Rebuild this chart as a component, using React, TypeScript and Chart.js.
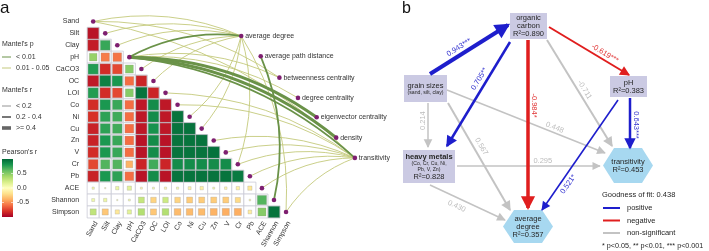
import React, { useEffect, useRef } from 'react';
import { Chart, registerables } from 'chart.js';

Chart.register(...registerables);

const FONT = '"Liberation Sans", Arial, Helvetica, sans-serif';

// ---------------- Panel a data ----------------
const envVars = ['Sand', 'Silt', 'Clay', 'pH', 'CaCO3', 'OC', 'LOI', 'Co', 'Ni', 'Cu', 'Zn', 'V', 'Cr', 'Pb', 'ACE', 'Shannon', 'Simpson'];

// Pearson's r, lower triangle (row vs. earlier columns)
const rSilt = [-0.92];
const rClay = [-0.88, 0.72];
const rPH = [0.45, -0.55, -0.58];
const rCaCO3 = [0.78, -0.82, -0.72, 0.5];
const rOC = [-0.9, 0.9, 0.8, -0.6, -0.85];
const rLOI = [0.78, -0.82, -0.72, 0.5, 0.95, -0.85];
const rCo = [-0.82, 0.8, 0.72, -0.6, -0.9, 0.85, -0.9];
const rNi = [-0.8, 0.75, 0.7, -0.6, -0.9, 0.85, -0.9, 0.95];
const rCu = [-0.86, 0.75, 0.7, -0.6, -0.9, 0.82, -0.9, 0.95, 0.95];
const rZn = [-0.86, 0.8, 0.72, -0.6, -0.92, 0.85, -0.92, 0.95, 0.95, 0.95];
const rV = [-0.82, 0.8, 0.72, -0.6, -0.92, 0.85, -0.92, 0.95, 0.95, 0.95, 0.96];
const rCr = [-0.72, 0.65, 0.65, -0.38, -0.85, 0.7, -0.85, 0.85, 0.85, 0.85, 0.85, 0.85];
const rPb = [-0.86, 0.8, 0.75, -0.6, -0.92, 0.85, -0.92, 0.95, 0.95, 0.95, 0.95, 0.95, 0.92];
const rACE = [0.05, 0.02, 0.1, 0.15, -0.04, 0.04, -0.05, 0.05, -0.08, -0.1, 0.04, -0.06, -0.1, -0.15];
const rShannon = [0.08, 0.1, 0.02, 0.04, 0.28, -0.25, 0.25, -0.25, -0.28, -0.28, -0.28, -0.28, -0.22, -0.03, 0.65];
const rSimpson = [0.3, -0.3, -0.15, 0.15, 0.35, -0.3, 0.35, -0.35, -0.35, -0.35, -0.38, -0.4, -0.4, -0.12, 0.5, 0.95];

const metrics = ['average degree', 'average path distance', 'betweenness centrality', 'degree centrality', 'eigenvector centrality', 'density', 'transitivity'];
const metricX = [12.28, 13.9, 15.45, 16.99, 18.54, 20.16, 21.71];
const metricY = [1.22, 2.93, 4.72, 6.42, 8.05, 9.76, 11.46];

// Mantel links: env variable index -> metric index
const linkFrom = [0, 0, 0, 1, 2, 3, 3, 4, 5, 6, 7, 8, 9, 10, 11, 12, 12, 13, 14, 16, 16, 3, 15, 3, 3, 3];
const linkTo = [0, 2, 6, 0, 0, 2, 3, 0, 0, 6, 6, 0, 0, 6, 6, 0, 6, 6, 6, 0, 6, 0, 1, 6, 4, 5];
const linkP = [0.03, 0.04, 0.03, 0.04, 0.03, 0.02, 0.04, 0.03, 0.04, 0.03, 0.04, 0.03, 0.04, 0.03, 0.03, 0.04, 0.03, 0.03, 0.02, 0.03, 0.02, 0.004, 0.006, 0.002, 0.001, 0.001];
const linkR = [0.12, 0.1, 0.14, 0.12, 0.11, 0.13, 0.1, 0.12, 0.11, 0.13, 0.12, 0.1, 0.11, 0.13, 0.12, 0.1, 0.12, 0.11, 0.13, 0.12, 0.14, 0.28, 0.3, 0.33, 0.42, 0.45];

const pearsonTicks = [0.5, 0.0, -0.5];

// ---------------- Panel b data ----------------
const nodeNames = ['grain sizes', 'organic carbon', 'pH', 'heavy metals', 'transitivity', 'average degree'];
const nodeX = [2.55, 12.85, 22.85, 2.9, 22.8, 12.8];
const nodeY = [8.85, 2.6, 8.65, 16.65, 16.55, 22.65];
const nodeR2 = ['', '0.890', '0.383', '0.828', '0.453', '0.357'];

const edgeX1 = [3.0, 11.0, 12.8, 14.9, 14.7, 2.8, 4.8, 4.7, 5.7, 3.0, 23.0, 21.8];
const edgeY1 = [7.4, 4.2, 4.0, 2.7, 4.0, 10.3, 10.3, 9.0, 16.6, 18.5, 9.8, 10.0];
const edgeX2 = [10.8, 4.7, 12.8, 22.9, 21.2, 2.8, 11.0, 20.5, 20.0, 10.5, 23.0, 14.2];
const edgeY2 = [2.5, 14.6, 20.8, 7.5, 14.6, 14.7, 21.0, 15.3, 16.6, 22.0, 14.8, 21.0];
const edgeCoef = ['0.943***', '0.705**', '-0.984*', '-0.619***', '-0.711', '0.214', '0.567', '0.448', '0.295', '0.430', '0.643***', '0.521*'];
const edgeKind = ['pos', 'pos', 'neg', 'neg', 'ns', 'ns', 'ns', 'ns', 'ns', 'ns', 'pos', 'pos'];
const goodnessOfFit = '0.438';

// ---------------- styles ----------------
const RDYLGN = ['#a50026', '#d73027', '#f46d43', '#fdae61', '#fee08b', '#ffffbf', '#d9ef8b', '#a6d96a', '#66bd63', '#1a9850', '#006837'];
const P_STRONG = '#6a9248';
const P_WEAK = '#c4c97c';
const PURPLE = '#7e1f70';
const KIND_COLOR: Record<string, string> = { pos: '#1e1ecc', neg: '#e01e1e', ns: '#c3c3c3' };
const KIND_LABEL: Record<string, string> = { pos: '#3434d0', neg: '#e03232', ns: '#bcbcbc' };
const edgeWidth = [4, 2.5, 3.5, 2, 2, 1.5, 2, 1.5, 1.3, 1.5, 2.5, 1.6];
const edgeLabelT = [0.42, 0.39, 0.39, 0.66, 0.5, 0.4, 0.44, 0.67, 0.6, 0.4, 0.54, 0.73];
const edgeLabelOff = [7, 7, 6, 6, 6, 5, 7, 5, 5, -8, 6, -7];
const edgeLabelFlip = [false, false, false, false, false, true, false, false, false, false, false, false];
const nodeShape = ['box', 'box', 'box', 'box', 'hex', 'hex'];
const nodeW = [43, 37, 37, 52, 50, 50];
const nodeH = [27, 26, 21, 33, 35, 33];

// x/y layout ranges for panel a (cell units)
const AX_MIN = -91 / 12.3;
const AX_MAX = AX_MIN + 400 / 12.3;
const AY_MIN = -18 / 12.3;
const AY_MAX = AY_MIN + 251 / 12.3;

function hexToRgb(h: string) {
  const n = parseInt(h.slice(1), 16);
  return [(n >> 16) & 255, (n >> 8) & 255, n & 255];
}
function corrColor(r: number) {
  const t = ((Math.max(-1, Math.min(1, r)) + 1) / 2) * 10;
  const i = Math.min(9, Math.floor(t));
  const f = t - i;
  const a = hexToRgb(RDYLGN[i]);
  const b = hexToRgb(RDYLGN[i + 1]);
  const c = a.map((v, k) => Math.round(v + (b[k] - v) * f));
  return `rgb(${c[0]},${c[1]},${c[2]})`;
}

const corrRows = [[], rSilt, rClay, rPH, rCaCO3, rOC, rLOI, rCo, rNi, rCu, rZn, rV, rCr, rPb, rACE, rShannon, rSimpson];

function cellUnit(chart: any) {
  const x = chart.scales.x;
  return Math.abs(x.getPixelForValue(1) - x.getPixelForValue(0));
}

const mantelLinks = {
  id: 'mantelLinks',
  beforeDatasetsDraw(chart: any) {
    const { ctx, scales } = chart;
    const x = scales.x, y = scales.y;
    ctx.save();
    ctx.lineCap = 'round';
    linkFrom.forEach((s, k) => {
      const m = linkTo[k];
      const x1 = x.getPixelForValue(s), y1 = y.getPixelForValue(s);
      const x2 = x.getPixelForValue(metricX[m]), y2 = y.getPixelForValue(metricY[m]);
      const dx = x2 - x1, dy = y2 - y1;
      const L = Math.hypot(dx, dy);
      let nx = dy / L, ny = -dx / L;
      if (nx - ny < 0) { nx = -nx; ny = -ny; }
      const cx = (x1 + x2) / 2 + nx * L * 0.16;
      const cy = (y1 + y2) / 2 + ny * L * 0.16;
      ctx.beginPath();
      ctx.moveTo(x1, y1);
      ctx.quadraticCurveTo(cx, cy, x2, y2);
      ctx.strokeStyle = linkP[k] < 0.01 ? P_STRONG : P_WEAK;
      ctx.lineWidth = linkR[k] >= 0.4 ? 3 : linkR[k] >= 0.2 ? 1.8 : 0.9;
      ctx.stroke();
    });
    ctx.restore();
  },
};

const panelAText = {
  id: 'panelAText',
  afterDraw(chart: any) {
    const { ctx, scales } = chart;
    const x = scales.x, y = scales.y;
    ctx.save();
    ctx.fillStyle = '#333';
    ctx.font = `7px ${FONT}`;
    ctx.textBaseline = 'middle';
    // row labels
    ctx.textAlign = 'right';
    const left = x.getPixelForValue(-0.5) - 8;
    envVars.forEach((n, i) => ctx.fillText(n, left, y.getPixelForValue(i)));
    // column labels
    const bottom = y.getPixelForValue(envVars.length - 0.5) + 4;
    envVars.forEach((n, j) => {
      ctx.save();
      ctx.translate(x.getPixelForValue(j) + 3, bottom);
      ctx.rotate(-Math.PI / 3);
      ctx.fillText(n, 0, 0);
      ctx.restore();
    });
    // metric labels
    ctx.textAlign = 'left';
    metrics.forEach((n, k) => ctx.fillText(n, x.getPixelForValue(metricX[k]) + 4, y.getPixelForValue(metricY[k])));

    // panel letter
    ctx.fillStyle = '#111';
    ctx.font = `17px ${FONT}`;
    ctx.textBaseline = 'alphabetic';
    ctx.fillText('a', 0, 13);

    // legends
    ctx.font = `7px ${FONT}`;
    ctx.textBaseline = 'middle';
    ctx.fillStyle = '#333';
    ctx.fillText("Mantel's p", 2, 44);
    const seg = (yy: number, col: string, w: number) => {
      ctx.beginPath();
      ctx.moveTo(2, yy);
      ctx.lineTo(11, yy);
      ctx.strokeStyle = col;
      ctx.lineWidth = w;
      ctx.stroke();
    };
    seg(57, P_STRONG, 1);
    ctx.fillText('< 0.01', 16, 57);
    seg(68, P_WEAK, 1);
    ctx.fillText('0.01 - 0.05', 16, 68);
    ctx.fillText("Mantel's r", 2, 90);
    seg(106, '#888', 0.9);
    ctx.fillText('< 0.2', 16, 106);
    seg(117, '#777', 2);
    ctx.fillText('0.2 - 0.4', 16, 117);
    seg(128, '#666', 3.6);
    ctx.fillText('>= 0.4', 16, 128);
    ctx.fillText("Pearson's r", 2, 152);
    // colorbar
    const top = 159, bot = 217;
    const g = ctx.createLinearGradient(0, top, 0, bot);
    RDYLGN.slice().reverse().forEach((c, i) => g.addColorStop(i / (RDYLGN.length - 1), c));
    ctx.fillStyle = g;
    ctx.fillRect(2, top, 11, bot - top);
    ctx.fillStyle = '#333';
    const mid = (top + bot) / 2;
    pearsonTicks.forEach((t) => {
      const yy = mid - t * (bot - top) / 2;
      ctx.strokeStyle = '#fff';
      ctx.lineWidth = 0.6;
      ctx.beginPath();
      ctx.moveTo(2, yy); ctx.lineTo(4, yy);
      ctx.moveTo(11, yy); ctx.lineTo(13, yy);
      ctx.stroke();
      ctx.fillText(t.toFixed(1), 17, yy);
    });
    ctx.restore();
  },
};

// ---------------- panel b plugins ----------------
function nodeLines(i: number): [string, number, boolean][] {
  const r2 = nodeR2[i] ? `R\u00B2=${nodeR2[i]}` : '';
  switch (i) {
    case 0: return [['grain sizes', 7.5, false], ['(sand, silt, clay)', 5.2, false]];
    case 1: return [['organic', 7.5, false], ['carbon', 7.5, false], [r2, 7.5, false]];
    case 2: return [[nodeNames[2], 7.5, false], [r2, 7.5, false]];
    case 3: return [['heavy metals', 7.5, true], ['(Co, Cr, Cu, Ni,', 5.2, false], ['Pb, V, Zn)', 5.2, false], [r2, 7.5, false]];
    case 4: return [[nodeNames[4], 7.5, false], [r2, 7.5, false]];
    default: return [['average', 7.5, false], ['degree', 7.5, false], [r2, 7.5, false]];
  }
}

const pathNodes = {
  id: 'pathNodes',
  beforeDatasetsDraw(chart: any) {
    const { ctx, scales } = chart;
    const x = scales.x, y = scales.y;
    ctx.save();
    nodeX.forEach((nx, i) => {
      const cx = x.getPixelForValue(nx), cy = y.getPixelForValue(nodeY[i]);
      const w = nodeW[i], h = nodeH[i];
      if (nodeShape[i] === 'box') {
        ctx.fillStyle = '#cbcae3';
        ctx.fillRect(cx - w / 2, cy - h / 2, w, h);
      } else {
        const q = w * 0.22;
        ctx.fillStyle = '#a7d8f0';
        ctx.beginPath();
        ctx.moveTo(cx - w / 2, cy);
        ctx.lineTo(cx - w / 2 + q, cy - h / 2);
        ctx.lineTo(cx + w / 2 - q, cy - h / 2);
        ctx.lineTo(cx + w / 2, cy);
        ctx.lineTo(cx + w / 2 - q, cy + h / 2);
        ctx.lineTo(cx - w / 2 + q, cy + h / 2);
        ctx.closePath();
        ctx.fill();
      }
      const lines = nodeLines(i);
      const heights = lines.map((l) => l[1] + 0.5);
      const total = heights.reduce((a, b) => a + b, 0);
      let yy = cy - total / 2;
      ctx.fillStyle = '#262626';
      ctx.textAlign = 'center';
      ctx.textBaseline = 'middle';
      lines.forEach((l, k) => {
        ctx.font = `${l[2] ? 'bold ' : ''}${l[1]}px ${FONT}`;
        ctx.fillText(l[0], cx, yy + heights[k] / 2 + 0.3);
        yy += heights[k];
      });
    });
    ctx.restore();
  },
};

const pathEdges = {
  id: 'pathEdges',
  afterDatasetsDraw(chart: any) {
    const { ctx, scales } = chart;
    const x = scales.x, y = scales.y;
    ctx.save();
    const order = edgeKind.map((k, i) => i).sort((a, b) => (edgeKind[a] === 'ns' ? 0 : 1) - (edgeKind[b] === 'ns' ? 0 : 1));
    order.forEach((i) => {
      const x1 = x.getPixelForValue(edgeX1[i]), y1 = y.getPixelForValue(edgeY1[i]);
      const x2 = x.getPixelForValue(edgeX2[i]), y2 = y.getPixelForValue(edgeY2[i]);
      const dx = x2 - x1, dy = y2 - y1;
      const L = Math.hypot(dx, dy);
      const ux = dx / L, uy = dy / L;
      const w = edgeWidth[i];
      const hl = 5 + 2.5 * w, hw = 2.2 + 1.4 * w;
      const tx = x2 + ux * w * 0.6, ty = y2 + uy * w * 0.6;
      const bx = tx - ux * hl, by = ty - uy * hl;
      ctx.fillStyle = KIND_COLOR[edgeKind[i]];
      ctx.beginPath();
      ctx.moveTo(tx, ty);
      ctx.lineTo(bx - uy * hw, by + ux * hw);
      ctx.lineTo(bx + uy * hw, by - ux * hw);
      ctx.closePath();
      ctx.fill();
    });
    // labels
    ctx.font = `7.5px ${FONT}`;
    ctx.textAlign = 'center';
    ctx.textBaseline = 'middle';
    edgeCoef.forEach((lab, i) => {
      const x1 = x.getPixelForValue(edgeX1[i]), y1 = y.getPixelForValue(edgeY1[i]);
      const x2 = x.getPixelForValue(edgeX2[i]), y2 = y.getPixelForValue(edgeY2[i]);
      let th = Math.atan2(y2 - y1, x2 - x1);
      if (th > Math.PI / 2 + 1e-3) th -= Math.PI;
      else if (th < -Math.PI / 2 - 1e-3) th += Math.PI;
      if (edgeLabelFlip[i]) th += Math.PI;
      const t = edgeLabelT[i], off = edgeLabelOff[i];
      const px = x1 + (x2 - x1) * t + Math.sin(th) * off;
      const py = y1 + (y2 - y1) * t - Math.cos(th) * off;
      ctx.save();
      ctx.translate(px, py);
      ctx.rotate(th);
      ctx.fillStyle = KIND_LABEL[edgeKind[i]];
      ctx.fillText(lab, 0, 0);
      ctx.restore();
    });
    ctx.restore();
  },
  afterDraw(chart: any) {
    const { ctx } = chart;
    ctx.save();
    ctx.fillStyle = '#111';
    ctx.font = `16px ${FONT}`;
    ctx.textBaseline = 'alphabetic';
    ctx.textAlign = 'left';
    ctx.fillText('b', 2, 13);
    ctx.fillStyle = '#262626';
    ctx.font = `7.5px ${FONT}`;
    ctx.textBaseline = 'middle';
    ctx.fillText(`Goodness of fit: ${goodnessOfFit}`, 202, 195);
    const items: [string, string][] = [['pos', 'positive'], ['neg', 'negative'], ['ns', 'non-significant']];
    items.forEach(([k, lab], j) => {
      const yy = 208 + j * 12.5;
      ctx.strokeStyle = KIND_COLOR[k];
      ctx.lineWidth = 2;
      ctx.beginPath();
      ctx.moveTo(203, yy);
      ctx.lineTo(220, yy);
      ctx.stroke();
      ctx.fillText(lab, 227, yy);
    });
    ctx.font = `7.2px ${FONT}`;
    ctx.fillText('* p<0.05, ** p<0.01, *** p<0.001', 202, 246);
    ctx.restore();
  },
};

export default function App() {
  const refA = useRef<HTMLCanvasElement>(null);
  const refB = useRef<HTMLCanvasElement>(null);

  useEffect(() => {
    const cellPoints = corrRows.flatMap((row, i) => row.map((v, j) => ({ x: j, y: i, v })));
    const diagPoints = envVars.map((_, i) => ({ x: i, y: i }));
    const metricPoints = metricX.map((mx, k) => ({ x: mx, y: metricY[k] }));

    const chartA = new Chart(refA.current as HTMLCanvasElement, {
      type: 'scatter',
      data: {
        datasets: [
          {
            data: cellPoints,
            pointStyle: 'rect',
            pointRadius: (c: any) => cellUnit(c.chart) / Math.SQRT2,
            backgroundColor: '#ffffff',
            borderColor: '#c9cad6',
            borderWidth: 0.8,
            order: 3,
          },
          {
            data: cellPoints,
            pointStyle: 'rect',
            pointRadius: (c: any) => {
              const v = c.raw ? Math.abs(c.raw.v) : 0;
              return (cellUnit(c.chart) * Math.sqrt(v)) / Math.SQRT2 - 0.3;
            },
            backgroundColor: (c: any) => corrColor(c.raw ? c.raw.v : 0),
            borderColor: 'rgba(150,150,150,0.55)',
            borderWidth: 0.5,
            order: 2,
          },
          { data: diagPoints, pointStyle: 'circle', pointRadius: 2.3, backgroundColor: PURPLE, borderWidth: 0, order: 1 },
          { data: metricPoints, pointStyle: 'circle', pointRadius: 2.3, backgroundColor: PURPLE, borderWidth: 0, order: 1 },
        ] as any,
      },
      options: {
        responsive: false,
        animation: false,
        events: [],
        layout: { padding: 0 },
        scales: {
          x: { type: 'linear', min: AX_MIN, max: AX_MAX, display: false },
          y: { type: 'linear', min: AY_MIN, max: AY_MAX, reverse: true, display: false },
        },
        plugins: { legend: { display: false }, tooltip: { enabled: false } },
      } as any,
      plugins: [mantelLinks, panelAText],
    });

    const chartB = new Chart(refB.current as HTMLCanvasElement, {
      type: 'scatter',
      data: {
        datasets: edgeCoef.map((_, i) => ({
          data: [
            { x: edgeX1[i], y: edgeY1[i] },
            { x: edgeX2[i], y: edgeY2[i] },
          ],
          showLine: true,
          borderColor: KIND_COLOR[edgeKind[i]],
          borderWidth: edgeWidth[i],
          pointRadius: 0,
          order: edgeKind[i] === 'ns' ? 2 : 1,
        })) as any,
      },
      options: {
        responsive: false,
        animation: false,
        events: [],
        layout: { padding: 0 },
        scales: {
          x: { type: 'linear', min: 0, max: 30.9, display: false },
          y: { type: 'linear', min: 0, max: 25.1, reverse: true, display: false },
        },
        plugins: { legend: { display: false }, tooltip: { enabled: false } },
      } as any,
      plugins: [pathNodes, pathEdges],
    });

    return () => {
      chartA.destroy();
      chartB.destroy();
    };
  }, []);

  return (
    <div style={{ position: 'absolute', left: 0, top: 0, width: 709, height: 251, background: '#fff', overflow: 'hidden' }}>
      <canvas ref={refA} width={400} height={251} style={{ position: 'absolute', left: 0, top: 0 }} />
      <canvas ref={refB} width={309} height={251} style={{ position: 'absolute', left: 400, top: 0 }} />
    </div>
  );
}
